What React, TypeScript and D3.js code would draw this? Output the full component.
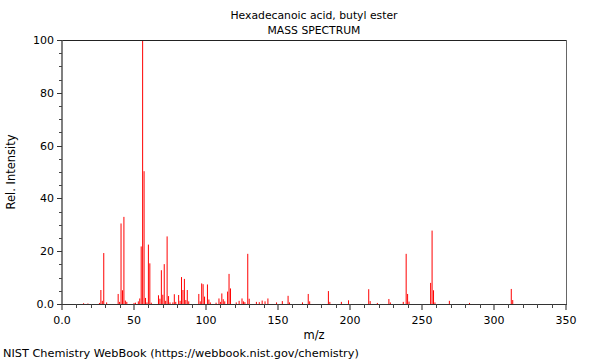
import React from 'react';
import * as d3 from 'd3';

const chartTitle = 'Hexadecanoic acid, butyl ester';
const chartSubtitle = 'MASS SPECTRUM';
const footerText = 'NIST Chemistry WebBook (https://webbook.nist.gov/chemistry)';

// m/z values and relative intensities
const mzValues = [
  15, 18, 26, 27, 28, 29, 31, 39, 40, 41, 42, 43, 44, 45, 50, 51, 53, 54, 55, 56,
  57, 58, 59, 60, 61, 62, 67, 68, 69, 70, 71, 72, 73, 74, 75, 77, 78, 79, 81, 82,
  83, 84, 85, 86, 87, 88, 95, 96, 97, 98, 99, 101, 102, 103, 107, 109, 110, 111, 112, 113,
  115, 116, 117, 121, 123, 125, 126, 127, 129, 130, 135, 137, 139, 141, 143, 149, 153, 157, 158, 167,
  171, 172, 185, 186, 194, 199, 213, 214, 219, 227, 228, 237, 239, 240, 241, 256, 257, 258, 259, 269,
  283, 312, 313,
];
const intensities = [
  0.3, 0.2, 0.4, 5.3, 1.2, 19.3, 0.6, 3.8, 0.8, 30.5, 5.2, 33, 1.3, 0.8, 0.4, 0.5, 1.0, 2.1, 21.8, 100,
  50.3, 2.3, 0.6, 22.5, 15.4, 0.5, 3.3, 2.0, 12.8, 3.5, 15.1, 1.2, 25.6, 3.0, 0.6, 0.6, 3.7, 0.8, 3.4, 1.2,
  10.2, 5.3, 9.5, 1.5, 5.3, 1.0, 3.8, 1.0, 7.8, 7.5, 2.8, 7.4, 1.7, 0.6, 0.5, 2.1, 0.8, 4.0, 1.8, 1.0,
  4.7, 11.4, 5.9, 0.6, 1.2, 2.1, 1.0, 0.7, 19.0, 2.0, 0.8, 0.7, 1.3, 1.0, 2.1, 0.6, 1.1, 3.1, 0.6, 0.6,
  3.8, 1.0, 4.9, 0.8, 0.8, 1.4, 5.6, 1.1, 0.4, 1.9, 0.6, 0.8, 19.0, 3.8, 0.9, 8.0, 27.8, 5.2, 0.6, 1.2,
  0.4, 5.7, 1.5,
];

const xTicks = [0, 50, 100, 150, 200, 250, 300, 350];
const xTickLabels = ['0.0', '50', '100', '150', '200', '250', '300', '350'];
const yTicks = [0, 20, 40, 60, 80, 100];
const yTickLabels = ['0.0', '20', '40', '60', '80', '100'];

const W = 600;
const H = 360;
const margin = { top: 40, right: 34, bottom: 56, left: 62 };
const font = 'DejaVu Sans, sans-serif';

export default function App() {
  const x = d3.scaleLinear().domain([0, 350]).range([margin.left, W - margin.right]);
  const y = d3.scaleLinear().domain([0, 100]).range([H - margin.bottom, margin.top]);
  const x0 = x(0);
  const x1 = x(350);
  const y0 = y(0);
  const y1 = y(100);
  const minorX = d3.range(0, 351, 10).filter((v) => v % 50 !== 0);
  const minorY = d3.range(0, 101, 5).filter((v) => v % 20 !== 0);
  const peaks = mzValues.map((mz, i) => ({ mz, v: intensities[i] }));

  return (
    <svg
      width={W}
      height={H}
      style={{ position: 'fixed', left: 0, top: 0, background: '#fff' }}
      fontFamily={font}
    >
      <rect x={0} y={0} width={W} height={H} fill="#fff" />
      <text x={(x0 + x1) / 2} y={19} textAnchor="middle" fontSize={10.8} fill="#000">
        {chartTitle}
      </text>
      <text x={(x0 + x1) / 2} y={34} textAnchor="middle" fontSize={10.8} fill="#000">
        {chartSubtitle}
      </text>

      {/* peaks */}
      {peaks.map((p) => (
        <line
          key={p.mz}
          x1={x(p.mz)}
          x2={x(p.mz)}
          y1={y0}
          y2={y(p.v)}
          stroke="#ff0000"
          strokeWidth={1}
        />
      ))}

      {/* frame */}
      <line x1={x0} x2={x1} y1={y1 + 0.5} y2={y1 + 0.5} stroke="#222" />
      <line x1={x1 + 0.5} x2={x1 + 0.5} y1={y1} y2={y0} stroke="#666" />
      <line x1={x0} x2={x0} y1={y1} y2={y0 + 1} stroke="#555" strokeWidth={1.5} />
      <line x1={x0} x2={x1 + 1} y1={y0 + 0.5} y2={y0 + 0.5} stroke="#333" />

      {/* y ticks */}
      {minorY.map((v) => (
        <line key={'my' + v} x1={x0 - 3} x2={x0} y1={Math.round(y(v)) + 0.5} y2={Math.round(y(v)) + 0.5} stroke="#444" />
      ))}
      {yTicks.map((v, i) => (
        <g key={'y' + v}>
          <line x1={x0 - 5} x2={x0} y1={Math.round(y(v)) + 0.5} y2={Math.round(y(v)) + 0.5} stroke="#333" />
          <text x={x0 - 8} y={y(v) + 4} textAnchor="end" fontSize={11} fill="#000">
            {yTickLabels[i]}
          </text>
        </g>
      ))}

      {/* x ticks */}
      {minorX.map((v) => (
        <line key={'mx' + v} x1={Math.round(x(v)) + 0.5} x2={Math.round(x(v)) + 0.5} y1={y0} y2={y0 + 4} stroke="#444" />
      ))}
      {xTicks.map((v, i) => (
        <g key={'x' + v}>
          <line x1={x(v)} x2={x(v)} y1={y0} y2={y0 + 6} stroke="#444" strokeWidth={1.2} />
          <text x={x(v)} y={y0 + 20} textAnchor="middle" fontSize={11} fill="#000">
            {xTickLabels[i]}
          </text>
        </g>
      ))}

      <text x={(x0 + x1) / 2} y={y0 + 35} textAnchor="middle" fontSize={11.5} fill="#000">
        m/z
      </text>
      <text
        transform={`translate(15,${(y0 + y1) / 2}) rotate(-90)`}
        textAnchor="middle"
        fontSize={11.5}
        fill="#000"
      >
        Rel. Intensity
      </text>
      <text x={3} y={357} fontSize={11.3} fill="#000">
        {footerText}
      </text>
    </svg>
  );
}
